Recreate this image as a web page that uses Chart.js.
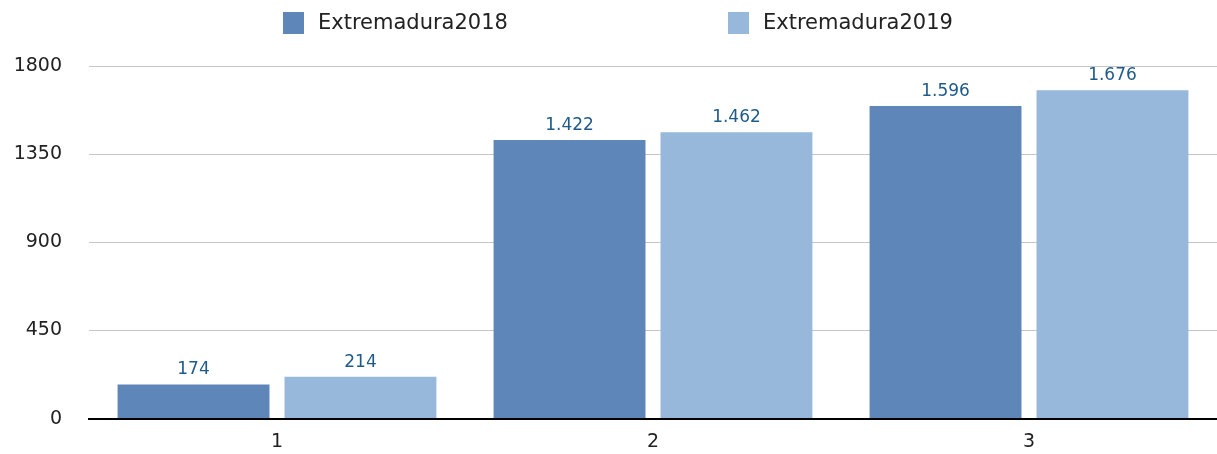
<!DOCTYPE html>
<html>
<head>
<meta charset="utf-8">
<script src="https://cdn.jsdelivr.net/npm/chart.js@4"></script>
<style>
  html, body { margin: 0; padding: 0; background: #fff; overflow: hidden; }
  #wrap { width: 1217px; height: 457px; }
</style>
</head>
<body>
<div id="wrap"><canvas id="chart"></canvas></div>
<script>
// data
const categories = ['1', '2', '3'];
const seriesNames = ['Extremadura2018', 'Extremadura2019'];
const values2018 = [174, 1422, 1596];
const values2019 = [214, 1462, 1676];
const yTicks = [0, 450, 900, 1350, 1800];

const colors = ['#5E86B8', '#97B8DA'];
const fontFamily = '"DejaVu Sans", "Open Sans", sans-serif';

// thousands with a dot, like the original
function fmt(v) {
    return v.toString().replace(/\B(?=(\d{3})+(?!\d))/g, '.');
}

// value labels above the bars
const valueLabels = {
    id: 'valueLabels',
    afterDatasetsDraw(chart) {
        const ctx = chart.ctx;
        ctx.save();
        ctx.font = '17px ' + fontFamily;
        ctx.fillStyle = '#1F5A8A';
        ctx.textAlign = 'center';
        ctx.textBaseline = 'bottom';
        chart.data.datasets.forEach((ds, i) => {
            chart.getDatasetMeta(i).data.forEach((bar, j) => {
                ctx.fillText(fmt(ds.data[j]), bar.x, bar.y - 6);
            });
        });
        ctx.restore();
    }
};

// legend drawn by hand so the wide gap between items can be kept
const topLegend = {
    id: 'topLegend',
    afterDraw(chart) {
        const ctx = chart.ctx;
        const starts = [283, 728];
        ctx.save();
        ctx.font = '21px ' + fontFamily;
        ctx.textBaseline = 'middle';
        ctx.textAlign = 'left';
        chart.data.datasets.forEach((ds, i) => {
            ctx.fillStyle = ds.backgroundColor;
            ctx.fillRect(starts[i], 12, 21, 22);
            ctx.fillStyle = '#222';
            ctx.fillText(ds.label, starts[i] + 35, 24);
        });
        ctx.restore();
    }
};

new Chart(document.getElementById('chart'), {
    type: 'bar',
    data: {
        labels: categories,
        datasets: [
            { label: seriesNames[0], data: values2018, backgroundColor: colors[0] },
            { label: seriesNames[1], data: values2019, backgroundColor: colors[1] }
        ]
    },
    options: {
        responsive: true,
        maintainAspectRatio: false,
        animation: false,
        layout: { padding: { top: 66, right: 0, left: 0, bottom: 0 } },
        datasets: {
            bar: { categoryPercentage: 0.888, barPercentage: 0.91 }
        },
        plugins: {
            legend: { display: false },
            tooltip: { enabled: false }
        },
        scales: {
            x: {
                afterFit(scale) { scale.height = 33; },
                grid: { display: false, drawTicks: false },
                border: { display: true, color: '#000', width: 2 },
                ticks: { color: '#222', font: { family: fontFamily, size: 19 }, padding: 12 }
            },
            y: {
                min: 0,
                max: 1800,
                afterFit(scale) { scale.width = 89; },
                afterBuildTicks(scale) { scale.ticks = yTicks.map(v => ({ value: v })); },
                grid: { color: '#C6C6C6', lineWidth: 1, drawTicks: false },
                border: { display: false },
                ticks: {
                    color: '#222',
                    font: { family: fontFamily, size: 19 },
                    padding: 27,
                    callback: v => String(v)
                }
            }
        }
    },
    plugins: [valueLabels, topLegend]
});
</script>
</body>
</html>
